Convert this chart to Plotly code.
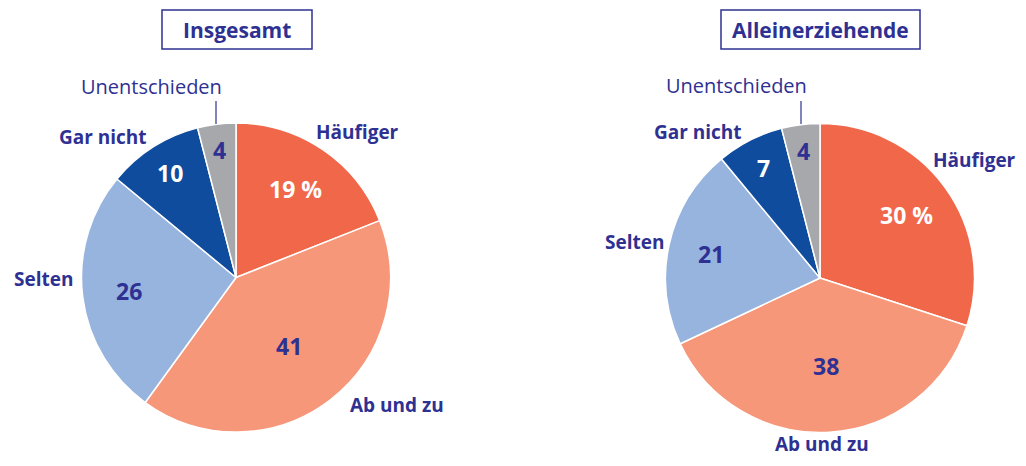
import math
import plotly.graph_objects as go

# ---- data ----
categories = ["Häufiger", "Ab und zu", "Selten", "Gar nicht", "Unentschieden"]
values_total = [19, 41, 26, 10, 4]
values_single = [30, 38, 21, 7, 4]
panel_titles = ["Insgesamt", "Alleinerziehende"]

# ---- styles ----
W, H = 1026, 466
OFF = 8  # page body margin compensation
FW, FH = W - 2 * OFF, H - 2 * OFF
colors = ["#F0674A", "#F69779", "#96B4DE", "#0F4C9D", "#A7A8AC"]
value_colors = ["white", "#2E3192", "#2E3192", "white", "#2E3192"]
navy = "#2E3192"
FONT = "Open Sans"

# pie geometry in pixels (center x, center y, radius)
pies = [(236, 277.5, 154.5), (820, 278, 154.5)]
# radial position (fraction of radius) for value labels inside each slice
label_r = [[0.69, 0.56, 0.70, 0.80, 0.83], [0.69, 0.57, 0.72, 0.80, 0.83]]
# outside category labels (pixel anchor, xanchor, yanchor) per panel
cat_pos = [
    [(357, 132, "center", "middle"), (397, 405, "center", "middle"),
     (43, 279, "center", "middle"), (103, 137, "center", "middle"),
     (151, 86, "center", "middle")],
    [(1017, 160, "right", "middle"), (822, 458, "center", "bottom"),
     (634, 242, "center", "middle"), (698, 132, "center", "middle"),
     (736, 85, "center", "middle")],
]
leader_x = [216, 801]
title_boxes = [(162, 312, 10, 49), (721, 920, 10, 49)]

def px(x):
    return (x - OFF) / FW

def py(y):
    return 1 - (y - OFF) / FH

fig = go.Figure()
annotations = []
shapes = []

for i, vals in enumerate([values_total, values_single]):
    cx, cy, r = pies[i]
    fig.add_trace(go.Pie(
        labels=categories, values=vals, sort=False, direction="clockwise",
        rotation=0, textinfo="none", hoverinfo="label+value",
        marker=dict(colors=colors, line=dict(color="white", width=1.5)),
        domain=dict(x=[px(cx - r), px(cx + r)], y=[py(cy + r), py(cy - r)]),
        showlegend=False,
    ))
    total = sum(vals)
    cum = 0
    for j, v in enumerate(vals):
        mid = (cum + v / 2) / total * 2 * math.pi
        cum += v
        rr = label_r[i][j] * r
        x = cx + math.sin(mid) * rr
        y = cy - math.cos(mid) * rr
        txt = f"{v} %" if j == 0 else f"{v}"
        annotations.append(dict(
            x=px(x), y=py(y), xref="paper", yref="paper", text=f"<b>{txt}</b>",
            showarrow=False, font=dict(family=FONT, size=23, color=value_colors[j]),
            xanchor="center", yanchor="middle"))
    for j, cat in enumerate(categories):
        x, y, xa, ya = cat_pos[i][j]
        bold = j != 4
        annotations.append(dict(
            x=px(x), y=py(y), xref="paper", yref="paper",
            text=f"<b>{cat}</b>" if bold else cat,
            showarrow=False, borderpad=0,
            font=dict(family=FONT, size=19 if bold else 20, color=navy),
            xanchor=xa, yanchor=ya))
    # leader line for "Unentschieden"
    shapes.append(dict(type="line", xref="paper", yref="paper",
                       x0=px(leader_x[i]), x1=px(leader_x[i]),
                       y0=py(101), y1=py(124), line=dict(color=navy, width=1.2)))
    # title box
    x0, x1, y0, y1 = title_boxes[i]
    shapes.append(dict(type="rect", xref="paper", yref="paper",
                       x0=px(x0), x1=px(x1), y0=py(y1), y1=py(y0),
                       line=dict(color=navy, width=1.5), fillcolor="white"))
    annotations.append(dict(
        x=px((x0 + x1) / 2), y=py((y0 + y1) / 2), xref="paper", yref="paper",
        text=f"<b>{panel_titles[i]}</b>", showarrow=False,
        font=dict(family=FONT, size=21, color=navy),
        xanchor="center", yanchor="middle"))

fig.update_layout(
    width=FW, height=FH, margin=dict(l=0, r=0, t=0, b=0),
    paper_bgcolor="white", plot_bgcolor="white",
    annotations=annotations, shapes=shapes,
)
fig.write_html("out.html")
